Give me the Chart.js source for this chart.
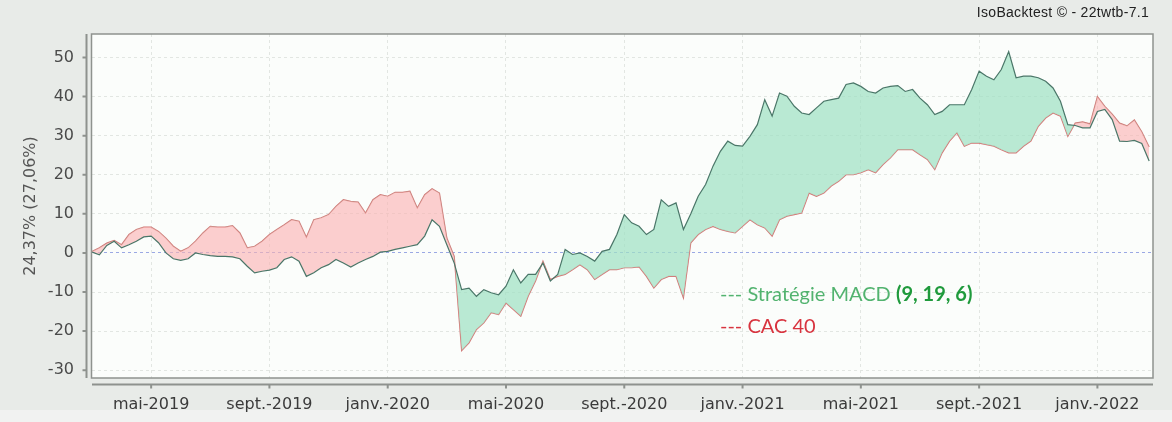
<!DOCTYPE html>
<html lang="fr">
<head>
<meta charset="utf-8">
<script src="https://cdn.jsdelivr.net/npm/chart.js@4.4.1/dist/chart.umd.min.js"></script>
<style>
  html, body { margin: 0; padding: 0; }
  body { width: 1172px; height: 422px; overflow: hidden;
         background: linear-gradient(#e8ebe8 0, #e8ebe8 410px, #f1f2f1 410px); }
  #wrap { position: relative; width: 1172px; height: 422px; }
  .titre { position: absolute; top: 4px; right: 23px; font: 14px "Liberation Sans", Arial, sans-serif;
           letter-spacing: 0.3px; color: #222; }
  .legende { position: absolute; left: 720px; top: 277px; font: 20px Lato, "Open Sans", sans-serif; line-height: 32px; }
  .strat { color: #52b36f; }
  .strat b { color: #1f9a3c; }
  .cac { color: #d8343f; }
</style>
</head>
<body>
<div id="wrap">
  <canvas id="graphique" width="1172" height="422"></canvas>
  <div class="titre">IsoBacktest © - 22twtb-7.1</div>
  <div class="legende">
    <div class="strat">--- Stratégie MACD <b>(9, 19, 6)</b></div>
    <div class="cac">--- CAC 40</div>
  </div>
</div>
<script>
// un point par quart de mois, à partir de mars 2019 (mois 0)
const pas = 0.25;

// performance cumulée (%) de la stratégie MACD
const strategie = [
  0.2, -0.5, 1.9, 3.0, 1.3, 2.1, 3.0, 4.1,
  4.3, 2.6, 0.0, -1.5, -1.9, -1.5, 0.0, -0.4,
  -0.7, -0.9, -0.9, -1.0, -1.5, -3.4, -5.1, -4.7,
  -4.4, -3.8, -1.7, -1.0, -2.1, -6.0, -5.1, -3.8,
  -3.0, -1.7, -2.6, -3.6, -2.6, -1.7, -0.9, 0.2,
  0.4, 0.9, 1.3, 1.7, 2.1, 4.3, 8.5, 6.8,
  2.1, -2.6, -9.4, -9.0, -11.1, -9.4, -10.2, -10.7,
  -8.5, -4.3, -7.7, -5.5, -5.5, -2.6, -7.2, -5.5,
  0.9, -0.4, 0.0, -0.9, -2.1, 0.4, 0.9, 4.7,
  9.8, 7.7, 6.8, 4.7, 6.0, 13.6, 11.9, 12.8,
  6.0, 10.0, 14.5, 17.5, 22.2, 26.0, 28.6, 27.5,
  27.3, 29.8, 32.8, 39.2, 35.0, 40.9, 40.1, 37.5,
  35.8, 35.4, 37.1, 38.8, 39.2, 39.6, 43.1, 43.5,
  42.6, 41.3, 40.9, 42.2, 42.6, 42.8, 41.3, 41.8,
  39.6, 37.9, 35.4, 36.2, 37.9, 37.9, 37.9, 41.8,
  46.5, 45.2, 44.3, 46.9, 51.5, 44.8, 45.2, 45.2,
  44.8, 43.9, 42.2, 38.8, 32.8, 32.6, 32.0, 32.0,
  36.2, 36.7, 34.1, 28.6, 28.5, 28.8, 28.0, 23.5
];

// performance cumulée (%) du CAC 40
const cac40 = [
  0.4, 1.3, 2.5, 3.2, 2.1, 4.7, 6.0, 6.6,
  6.6, 5.5, 3.8, 1.7, 0.4, 1.3, 3.0, 5.1,
  6.8, 6.6, 6.6, 7.0, 5.1, 1.3, 1.7, 3.0,
  4.7, 6.0, 7.2, 8.5, 8.1, 4.0, 8.5, 9.0,
  9.8, 11.9, 13.6, 13.2, 13.0, 10.2, 13.6, 14.9,
  14.5, 15.5, 15.5, 15.8, 11.5, 14.9, 16.4, 15.3,
  3.8, -0.9, -25.0, -23.0, -19.6, -17.9, -15.3, -15.8,
  -12.8, -14.5, -16.2, -11.1, -7.2, -2.1, -6.8, -6.0,
  -5.5, -4.3, -3.0, -4.3, -6.8, -5.5, -4.3, -4.3,
  -3.8, -3.8, -3.6, -6.0, -9.0, -6.8, -6.0, -6.0,
  -11.5, 2.6, 4.7, 6.0, 6.8, 6.0, 5.5, 5.1,
  6.8, 8.5, 7.2, 6.4, 4.3, 8.5, 9.4, 9.8,
  10.2, 15.3, 14.5, 15.3, 17.1, 18.3, 20.0, 20.0,
  20.5, 21.3, 20.5, 22.6, 24.3, 26.4, 26.4, 26.4,
  25.1, 23.9, 21.3, 25.6, 28.6, 30.7, 27.3, 28.1,
  28.1, 27.7, 27.3, 26.4, 25.6, 25.6, 27.3, 28.6,
  32.4, 34.5, 35.8, 35.0, 29.8, 33.2, 33.5, 33.0,
  40.0, 37.5, 35.5, 33.2, 32.5, 34.0, 31.0, 27.1
];

const moisTicks = [2, 6, 10, 14, 18, 22, 26, 30, 34];
const moisLabels = ['mai-2019', 'sept.-2019', 'janv.-2020', 'mai-2020', 'sept.-2020',
                    'janv.-2021', 'mai-2021', 'sept.-2021', 'janv.-2022'];
const yTicks = [-30, -20, -10, 0, 10, 20, 30, 40, 50];
const titreY = '24,37% (27,06%)';

const points = serie => serie.map((v, i) => ({ x: i * pas, y: v }));

// fond de la zone, cadre et axes décalés façon JFreeChart
const cadre = {
  id: 'cadre',
  beforeDraw(chart) {
    const { ctx, chartArea: a } = chart;
    ctx.save();
    ctx.fillStyle = '#fbfdfb';
    ctx.fillRect(a.left, a.top, a.right - a.left, a.bottom - a.top);
    ctx.restore();
  },
  afterDraw(chart) {
    const { ctx, chartArea: a, scales } = chart;
    ctx.save();
    ctx.strokeStyle = '#8e928e';
    ctx.lineWidth = 1.5;
    ctx.strokeRect(a.left - 0.5, a.top, a.right - a.left + 0.5, a.bottom - a.top);

    ctx.lineWidth = 2;
    const ax = a.left - 5.5;
    ctx.beginPath();
    ctx.moveTo(ax, a.top); ctx.lineTo(ax, a.bottom);
    yTicks.forEach(v => {
      const py = scales.y.getPixelForValue(v);
      ctx.moveTo(ax - 4, py); ctx.lineTo(ax, py);
    });
    const ay = a.bottom + 6.5;
    ctx.moveTo(a.left, ay); ctx.lineTo(a.right, ay);
    moisTicks.forEach(v => {
      const px = scales.x.getPixelForValue(v);
      ctx.moveTo(px, ay); ctx.lineTo(px, ay + 4);
    });
    ctx.stroke();
    ctx.restore();
  }
};

new Chart(document.getElementById('graphique'), {
  type: 'line',
  data: {
    datasets: [
      {
        label: 'Stratégie MACD (9, 19, 6)',
        data: points(strategie),
        borderColor: '#4a7668',
        borderWidth: 1.2,
        pointRadius: 0,
        fill: { target: 1, above: 'rgba(160,225,196,0.72)', below: 'rgba(250,178,178,0.62)' }
      },
      {
        label: 'CAC 40',
        data: points(cac40),
        borderColor: '#d07472',
        borderWidth: 1.2,
        pointRadius: 0,
        fill: false
      }
    ]
  },
  options: {
    responsive: false,
    animation: false,
    layout: { padding: { top: 34, right: 19, left: 0, bottom: 0 } },
    plugins: { legend: { display: false }, tooltip: { enabled: false } },
    scales: {
      x: {
        type: 'linear',
        min: 0,
        max: 35.88,
        afterFit: s => { s.height = 44; },
        afterBuildTicks: s => { s.ticks = moisTicks.map(v => ({ value: v })); },
        ticks: {
          padding: 17,
          color: '#3a3a3a',
          font: { family: 'DejaVu Sans', size: 16 },
          callback: v => moisLabels[moisTicks.indexOf(v)]
        },
        grid: { color: '#e2e6e2', drawTicks: false, borderDash: [3, 3] },
        border: { display: false, dash: [3, 3] }
      },
      y: {
        min: -32,
        max: 56,
        afterFit: s => { s.width = 92; },
        afterBuildTicks: s => { s.ticks = yTicks.map(v => ({ value: v })); },
        ticks: {
          padding: 18,
          color: '#4a4a4a',
          font: { family: 'DejaVu Sans', size: 16 }
        },
        title: {
          display: true,
          text: titreY,
          color: '#555',
          font: { family: 'DejaVu Sans', size: 16 },
          padding: { top: 21, bottom: 0 }
        },
        grid: {
          color: c => (c.tick && c.tick.value === 0) ? '#9aa8e4' : '#e2e6e2',
          drawTicks: false,
          borderDash: [3, 3]
        },
        border: { display: false, dash: [3, 3] }
      }
    }
  },
  plugins: [cadre]
});
</script>
</body>
</html>
